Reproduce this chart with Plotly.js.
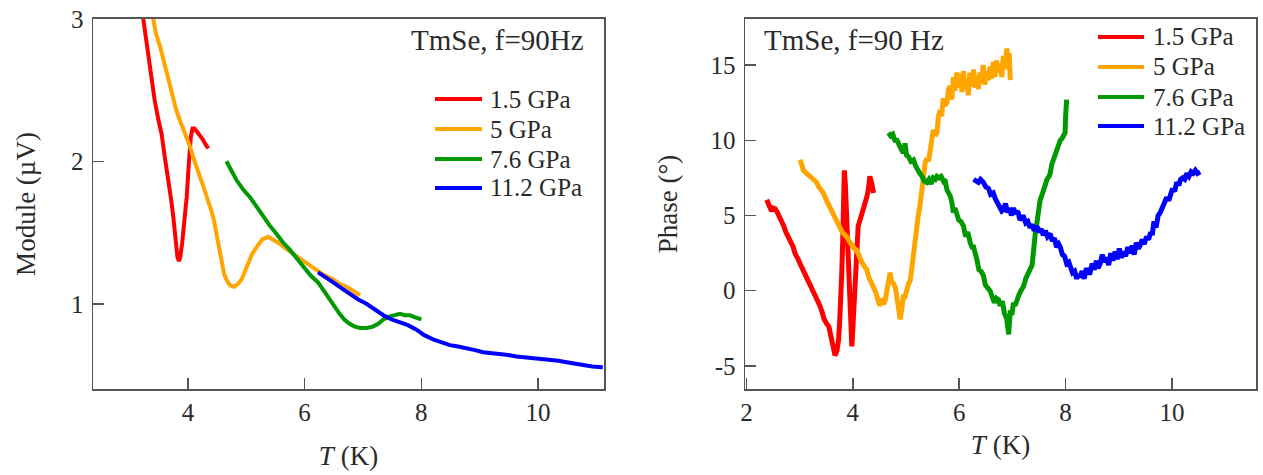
<!DOCTYPE html>
<html>
<head>
<meta charset="utf-8">
<script src="https://cdn.plot.ly/plotly-3.0.1.min.js"></script>
<style>html,body{margin:0;padding:0;background:#fff;}#chart{width:1263px;height:475px;}</style>
</head>
<body>
<div id="chart"></div>
<script>
// ---- Series names ----
const seriesNames = ['1.5 GPa', '5 GPa', '7.6 GPa', '11.2 GPa'];
const seriesColors = ['#ff0000', '#ffa500', '#009900', '#0000ff'];

// ---- Left panel: Module (µV) vs T (K) ----
const modRedT = [3.235,3.30,3.35,3.40,3.43,3.49,3.55,3.60,3.66,3.71,3.75,3.79,3.82,3.846,3.87,3.90,3.94,3.98,4.02,4.05,4.08,4.11,4.15,4.19,4.22,4.26,4.30,4.35];
const modRedV = [3.00,2.80,2.66,2.52,2.43,2.30,2.19,2.04,1.89,1.74,1.61,1.42,1.33,1.30,1.33,1.42,1.58,1.75,2.01,2.17,2.23,2.23,2.21,2.19,2.18,2.15,2.12,2.09];

const modOrangeT = [3.406,3.45,3.52,3.58,3.635,3.70,3.75,3.80,3.86,3.92,3.98,4.04,4.09,4.16,4.235,4.30,4.38,4.44,4.49,4.54,4.58,4.62,4.66,4.72,4.79,4.86,4.92,4.98,5.03,5.10,5.18,5.27,5.375,5.47,5.58,5.70,5.81,5.92,6.04,6.15,6.30,6.49,6.60,6.72,6.85,6.95];
const modOrangeV = [3.00,2.90,2.81,2.71,2.61,2.51,2.43,2.36,2.29,2.23,2.17,2.10,2.03,1.95,1.87,1.78,1.68,1.60,1.49,1.37,1.28,1.21,1.17,1.13,1.12,1.14,1.17,1.23,1.29,1.35,1.40,1.45,1.47,1.45,1.42,1.38,1.35,1.32,1.28,1.25,1.21,1.17,1.14,1.12,1.09,1.06];

const modGreenT = [4.66,4.75,4.83,4.95,5.06,5.18,5.29,5.40,5.52,5.63,5.745,5.86,5.975,6.10,6.23,6.33,6.43,6.52,6.60,6.68,6.77,6.86,6.95,7.06,7.17,7.26,7.35,7.45,7.55,7.63,7.72,7.80,7.86,7.93,8.00];
const modGreenV = [2.00,1.93,1.87,1.80,1.75,1.68,1.61,1.55,1.49,1.43,1.38,1.32,1.26,1.20,1.15,1.09,1.03,0.97,0.93,0.89,0.86,0.84,0.83,0.83,0.84,0.86,0.89,0.91,0.92,0.93,0.92,0.92,0.91,0.90,0.89];

const modBlueT = [6.23,6.35,6.49,6.63,6.77,6.92,7.06,7.20,7.35,7.49,7.63,7.77,7.91,8.05,8.20,8.35,8.49,8.63,8.77,8.92,9.06,9.20,9.34,9.49,9.63,9.77,9.91,10.05,10.20,10.35,10.49,10.63,10.77,10.93,11.11];
const modBlueV = [1.22,1.19,1.15,1.11,1.07,1.03,1.00,0.96,0.92,0.89,0.87,0.85,0.82,0.78,0.75,0.73,0.71,0.70,0.69,0.675,0.66,0.655,0.65,0.64,0.63,0.625,0.62,0.615,0.61,0.60,0.59,0.58,0.57,0.56,0.555];

// ---- Right panel: Phase (°) vs T (K) ----
const phRedT = [2.38,2.42,2.47,2.50,2.54,2.58,2.62,2.66,2.70,2.74,2.79,2.83,2.88,2.91,2.95,2.97,3.02,3.06,3.10,3.13,3.17,3.21,3.25,3.29,3.33,3.36,3.38,3.42,3.46,3.51,3.55,3.58,3.60,3.63,3.665,3.70,3.73,3.75,3.77,3.79,3.81,3.83,3.84,3.86,3.885,3.90,3.915,3.94,3.96,3.98,4.00,4.02,4.04,4.07,4.10,4.135,4.18,4.23,4.26,4.29,4.32,4.35,4.37,4.39];
const phRedV = [6.05,5.6,5.3,5.5,5.45,5.2,4.9,4.7,4.3,3.9,3.6,3.3,2.9,2.5,2.3,2.1,1.7,1.4,1.1,0.9,0.6,0.3,0.1,-0.15,-0.5,-0.8,-1.0,-1.4,-1.9,-2.2,-2.4,-2.9,-3.3,-3.8,-4.3,-4.0,-3.3,-2.2,-1.0,1.0,3.4,6.5,8.0,7.0,4.5,2.5,1.2,-1.0,-2.8,-3.7,-2.5,-1.0,1.0,3.4,4.3,4.7,5.2,5.6,6.2,6.7,7.6,7.2,6.8,6.5];

const phOrangeT = [3.01,3.04,3.07,3.10,3.13,3.17,3.22,3.27,3.32,3.36,3.40,3.445,3.49,3.53,3.57,3.62,3.66,3.70,3.75,3.80,3.85,3.885,3.93,3.98,4.03,4.07,4.12,4.17,4.22,4.26,4.30,4.35,4.385,4.43,4.47,4.51,4.55,4.58,4.61,4.65,4.68,4.70,4.73,4.76,4.80,4.84,4.87,4.89,4.92,4.95,4.98,5.02,5.05,5.08,5.11,5.13,5.15,5.17,5.20,5.23,5.26,5.29,5.31,5.33,5.36,5.39,5.42,5.45,5.48,5.51,5.55,5.58,5.61,5.64,5.67,5.70,5.73,5.77,5.80,5.83,5.86,5.89,5.92,5.955,5.99,6.02,6.05,6.08,6.11,6.14,6.17,6.20,6.24,6.27,6.30,6.33,6.36,6.39,6.42,6.45,6.48,6.51,6.55,6.58,6.61,6.64,6.67,6.70,6.73,6.77,6.80,6.83,6.86,6.895,6.92,6.94,6.96];
const phOrangeV = [8.7,8.2,8.0,7.9,7.8,7.6,7.5,7.3,7.2,6.9,6.7,6.5,6.1,5.8,5.6,5.1,4.8,4.5,4.2,3.9,3.7,3.6,3.3,3.0,2.8,2.7,2.2,1.9,1.6,1.4,0.9,0.5,0.3,-0.1,-0.6,-1.0,-0.5,-0.9,-0.6,0.2,0.9,1.2,0.6,0.5,0.2,-0.6,-1.6,-1.9,-1.2,-0.4,-0.4,0.2,0.5,0.7,1.6,2.5,3.2,3.4,4.3,5.0,5.6,6.6,7.0,7.2,8.5,8.8,8.6,9.2,10.0,10.7,10.3,10.5,11.6,12.0,11.6,12.8,12.3,12.5,13.4,13.6,12.7,14.2,13.3,14.5,13.5,14.4,13.2,14.6,13.4,14.0,13.0,14.5,13.6,14.7,13.5,14.3,13.4,14.5,13.8,15.0,13.7,14.6,14.0,14.9,14.1,15.2,14.2,15.3,14.5,15.1,14.2,15.6,14.8,16.1,14.7,15.8,14.0];

const phGreenT = [4.67,4.71,4.75,4.79,4.83,4.87,4.91,4.95,4.98,5.01,5.05,5.09,5.14,5.18,5.22,5.26,5.30,5.34,5.39,5.43,5.47,5.51,5.55,5.58,5.62,5.66,5.70,5.73,5.77,5.80,5.83,5.86,5.89,5.92,5.955,5.99,6.03,6.08,6.12,6.16,6.205,6.24,6.27,6.30,6.33,6.37,6.41,6.455,6.49,6.53,6.58,6.62,6.66,6.70,6.74,6.77,6.81,6.85,6.895,6.93,6.96,6.99,7.02,7.05,7.08,7.12,7.16,7.21,7.25,7.29,7.33,7.37,7.40,7.43,7.46,7.49,7.52,7.55,7.59,7.62,7.65,7.69,7.71,7.74,7.77,7.81,7.84,7.87,7.90,7.93,7.96,7.99,8.00,8.02];
const phGreenV = [10.5,10.3,10.4,10.0,10.0,9.6,9.4,9.15,9.8,9.0,8.9,8.6,8.7,8.3,8.0,7.8,7.6,7.3,7.2,7.4,7.1,7.5,7.4,7.6,7.5,7.6,7.3,7.4,6.7,6.5,6.3,5.9,5.2,5.5,5.1,4.7,4.6,4.3,3.6,3.9,3.2,2.9,2.9,2.3,2.1,1.4,1.3,1.0,0.4,0.2,0.0,-0.4,-0.8,-0.5,-0.6,-1.0,-0.7,-1.5,-1.9,-2.9,-1.3,-1.6,-0.8,-1.0,-0.6,-0.3,0.0,0.3,0.8,1.2,1.4,1.7,3.0,3.8,4.5,5.5,6.0,6.3,6.8,7.1,7.4,7.6,7.8,8.4,8.7,9.2,9.5,9.8,10.0,10.1,10.3,10.5,11.6,12.7];

const phBlueT = [6.27,6.31,6.36,6.40,6.455,6.50,6.55,6.59,6.64,6.68,6.72,6.76,6.80,6.83,6.87,6.91,6.95,6.98,7.02,7.06,7.10,7.14,7.18,7.21,7.25,7.29,7.33,7.37,7.41,7.46,7.50,7.54,7.58,7.62,7.66,7.71,7.75,7.79,7.83,7.87,7.90,7.94,7.98,8.02,8.06,8.09,8.13,8.17,8.21,8.24,8.27,8.31,8.35,8.39,8.42,8.46,8.50,8.54,8.58,8.61,8.65,8.69,8.73,8.77,8.81,8.85,8.89,8.93,8.97,9.01,9.05,9.09,9.13,9.17,9.21,9.25,9.29,9.33,9.37,9.40,9.44,9.48,9.52,9.56,9.60,9.63,9.66,9.70,9.74,9.78,9.82,9.86,9.90,9.94,9.97,10.01,10.05,10.09,10.13,10.16,10.20,10.24,10.28,10.32,10.36,10.40,10.44,10.48,10.53];
const phBlueV = [7.4,7.3,7.2,7.4,7.2,6.9,6.8,6.4,6.5,6.1,5.8,5.6,5.3,5.4,5.8,5.2,5.5,5.0,5.5,5.1,5.3,4.7,4.9,4.9,4.5,4.6,4.2,4.4,4.0,4.3,3.9,4.1,3.7,4.0,3.6,3.8,3.3,3.5,2.9,3.1,2.9,2.4,2.3,1.8,1.9,1.6,1.2,1.3,0.8,1.1,0.9,1.3,0.8,1.5,1.2,1.2,1.8,1.4,2.0,1.5,1.8,2.4,1.9,2.2,1.7,2.5,2.0,2.6,2.1,2.8,2.2,2.6,2.3,2.9,2.5,3.0,2.4,3.2,2.8,3.0,3.4,3.1,3.6,3.4,3.9,3.7,4.6,4.2,5.0,5.2,5.5,5.8,6.2,6.0,6.3,6.8,6.6,7.2,7.0,7.4,7.5,7.4,7.8,7.6,7.9,7.8,8.0,7.8,7.9];

// ---- Tick labels ----
const leftXTicks = [4, 6, 8, 10];
const leftYTicks = [1, 2, 3];
const rightXTicks = [2, 4, 6, 8, 10];
const rightYTicks = [-5, 0, 5, 10, 15];
const rightYTickText = ['-5', '0', '5', '10', '15'];

const FONT = 'Liberation Serif, Times New Roman, serif';
const TXT = '#2a2a2a';

const modT = [modRedT, modOrangeT, modGreenT, modBlueT];
const modV = [modRedV, modOrangeV, modGreenV, modBlueV];
const phT = [phRedT, phOrangeT, phGreenT, phBlueT];
const phV = [phRedV, phOrangeV, phGreenV, phBlueV];

const traces = [];
for (let i = 0; i < 4; i++) {
  traces.push({
    x: modT[i], y: modV[i], type: 'scatter', mode: 'lines', name: seriesNames[i],
    line: {color: seriesColors[i], width: 4}, xaxis: 'x', yaxis: 'y', showlegend: false
  });
}
for (let i = 0; i < 4; i++) {
  traces.push({
    x: phT[i], y: phV[i], type: 'scatter', mode: 'lines', name: seriesNames[i],
    line: {color: seriesColors[i], width: 5}, xaxis: 'x2', yaxis: 'y2', showlegend: false
  });
}

const axisCommon = {
  showgrid: false, zeroline: false, showline: true, linecolor: '#555', linewidth: 1.5,
  mirror: true, ticks: 'inside', ticklen: 11, tickwidth: 1.5, tickcolor: '#555',
  tickfont: {family: FONT, size: 25, color: TXT}
};

const W = 1263, H = 475;

// Legend (key lines + labels placed in page coordinates)
const shapes = [];
const annotations = [];
const legendRowsLeft = [99, 129, 159, 188];
const legendRowsRight = [37, 67, 97, 126];
for (let i = 0; i < 4; i++) {
  shapes.push({type: 'line', xref: 'paper', yref: 'paper',
    x0: 435 / W, x1: 482 / W, y0: 1 - legendRowsLeft[i] / H, y1: 1 - legendRowsLeft[i] / H,
    line: {color: seriesColors[i], width: 4}});
  annotations.push({xref: 'paper', yref: 'paper', x: 488 / W, y: 1 - legendRowsLeft[i] / H,
    xanchor: 'left', yanchor: 'middle', text: seriesNames[i], showarrow: false,
    font: {family: FONT, size: 25, color: TXT}});
  shapes.push({type: 'line', xref: 'paper', yref: 'paper',
    x0: 1098 / W, x1: 1144 / W, y0: 1 - legendRowsRight[i] / H, y1: 1 - legendRowsRight[i] / H,
    line: {color: seriesColors[i], width: 4}});
  annotations.push({xref: 'paper', yref: 'paper', x: 1151 / W, y: 1 - legendRowsRight[i] / H,
    xanchor: 'left', yanchor: 'middle', text: seriesNames[i], showarrow: false,
    font: {family: FONT, size: 25, color: TXT}});
}
annotations.push(
  {xref: 'paper', yref: 'paper', x: 586 / W, y: 1 - 40 / H, xanchor: 'right', yanchor: 'middle',
   text: 'TmSe, f=90Hz', showarrow: false, font: {family: FONT, size: 29, color: TXT}},
  {xref: 'paper', yref: 'paper', x: 762 / W, y: 1 - 40 / H, xanchor: 'left', yanchor: 'middle',
   text: 'TmSe, f=90 Hz', showarrow: false, font: {family: FONT, size: 29, color: TXT}}
);

const layout = {
  width: W, height: H,
  margin: {l: 0, r: 0, t: 0, b: 0},
  paper_bgcolor: '#fff', plot_bgcolor: '#fff',
  font: {family: FONT, color: TXT},
  showlegend: false,
  xaxis: Object.assign({}, axisCommon, {
    domain: [93 / W, 604 / W], range: [2.374, 11.13], anchor: 'y',
    tickmode: 'array', tickvals: leftXTicks, ticklabelstandoff: 0,
    title: {text: '<i>T</i> (K)', font: {family: FONT, size: 27, color: TXT}, standoff: 21}
  }),
  yaxis: Object.assign({}, axisCommon, {
    domain: [1 - 389.3 / H, 1 - 18.7 / H], range: [0.4, 3.0005], anchor: 'x',
    tickmode: 'array', tickvals: leftYTicks, ticklabelstandoff: 3,
    title: {text: 'Module (µV)', font: {family: FONT, size: 27, color: TXT}, standoff: 27}
  }),
  xaxis2: Object.assign({}, axisCommon, {
    domain: [745 / W, 1256 / W], range: [1.972, 11.58], anchor: 'y2',
    tickmode: 'array', tickvals: rightXTicks, ticklabelstandoff: 0,
    title: {text: '<i>T</i> (K)', font: {family: FONT, size: 27, color: TXT}, standoff: 10}
  }),
  yaxis2: Object.assign({}, axisCommon, {
    domain: [1 - 389.3 / H, 1 - 18.7 / H], range: [-6.55, 18.08], anchor: 'x2',
    tickmode: 'array', tickvals: rightYTicks, ticktext: rightYTickText, ticklabelstandoff: 3,
    title: {text: 'Phase (°)', font: {family: FONT, size: 27, color: TXT}, standoff: 25}
  }),
  shapes: shapes,
  annotations: annotations
};

Plotly.newPlot('chart', traces, layout, {displayModeBar: false, staticPlot: true});
</script>
</body>
</html>
